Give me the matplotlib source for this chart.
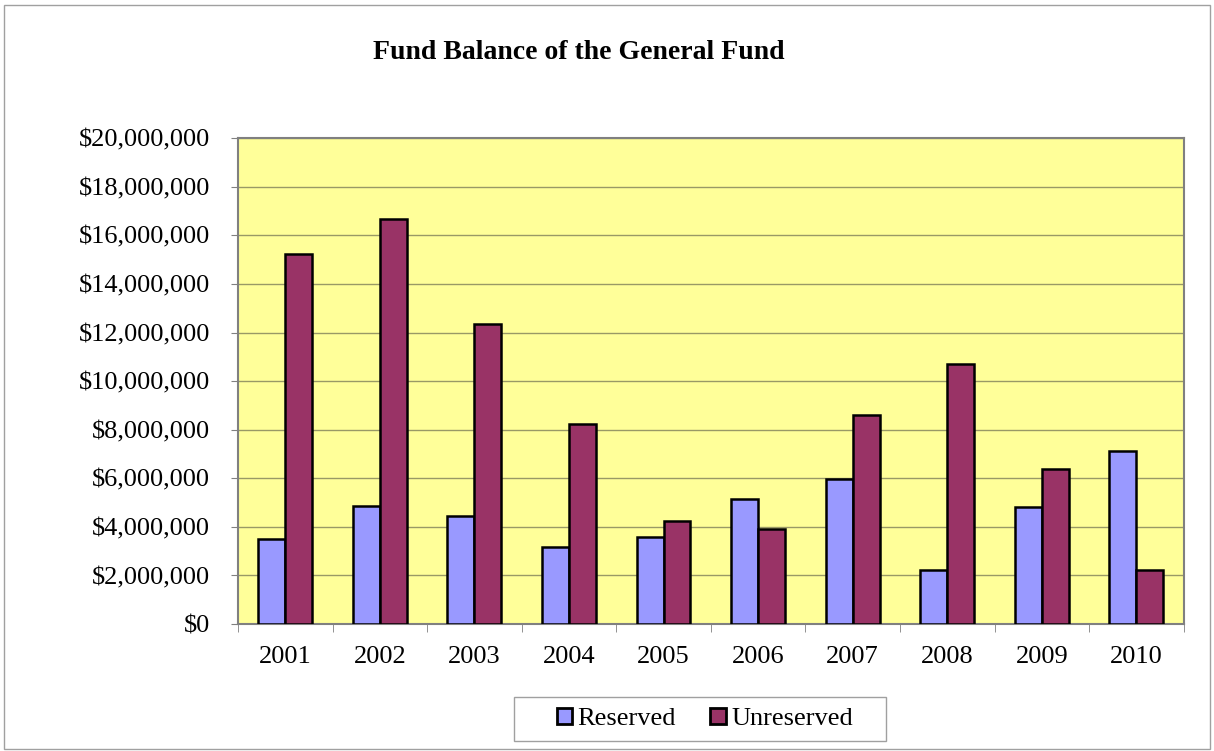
import numpy as np
import matplotlib.pyplot as plt
from matplotlib.patches import Rectangle
from matplotlib.ticker import FuncFormatter

# data
years = ["2001", "2002", "2003", "2004", "2005", "2006", "2007", "2008", "2009", "2010"]
reserved = [3.52e6, 4.85e6, 4.45e6, 3.18e6, 3.58e6, 5.13e6, 5.99e6, 2.23e6, 4.83e6, 7.14e6]
unreserved = [15.25e6, 16.66e6, 12.36e6, 8.23e6, 4.23e6, 3.91e6, 8.62e6, 10.72e6, 6.39e6, 2.23e6]

plt.rcParams["font.family"] = ["Liberation Serif", "DejaVu Serif"]

fig = plt.figure(figsize=(12.14, 7.51), dpi=100)
fig.patches.append(Rectangle((0.003, 0.003), 0.994, 0.99, transform=fig.transFigure,
                             fill=False, edgecolor="#a0a0a0", linewidth=1))
# legend box
fig.patches.append(Rectangle((0.4234, 0.0133), 0.3064, 0.0586, transform=fig.transFigure,
                             fill=False, edgecolor="#a0a0a0", linewidth=1))
ax = fig.add_axes([0.196, 0.169, 0.779, 0.647])

x = np.arange(len(years))
w = 0.285
ax.bar(x - w / 2, reserved, w, color="#9999ff", edgecolor="black", linewidth=1.8, label="Reserved", zorder=3)
ax.bar(x + w / 2, unreserved, w, color="#993366", edgecolor="black", linewidth=1.8, label="Unreserved", zorder=3)

ax.set_facecolor("#ffff99")
ax.set_xlim(-0.5, len(years) - 0.5)
ax.set_ylim(0, 20e6)
ax.set_yticks(np.arange(0, 20e6 + 1, 2e6))
ax.yaxis.set_major_formatter(FuncFormatter(lambda v, p: "${:,.0f}".format(v)))
ax.grid(axis="y", color="#999966", linewidth=1, zorder=0)

ax.set_xticks(x)
ax.set_xticklabels(years)
ax.set_xticks(np.arange(-0.5, len(years), 1), minor=True)
ax.tick_params(axis="x", which="major", length=0, pad=16, labelsize=19)
ax.tick_params(axis="x", which="minor", length=6, color="#808080")
ax.tick_params(axis="y", length=5, color="#808080", labelsize=19, pad=15)

for s in ["top", "right", "left", "bottom"]:
    ax.spines[s].set_color("#808080")
    ax.spines[s].set_linewidth(1.5)

fig.text(0.477, 0.93, "Fund Balance of the General Fund", ha="center", va="center",
         fontsize=20, fontweight="bold")

leg = fig.legend(loc="center", bbox_to_anchor=(0.5807, 0.0425), ncol=2, fontsize=19,
                 frameon=False, handlelength=0.6, handleheight=0.6, handletextpad=0.2,
                 columnspacing=1.3, borderpad=0, borderaxespad=0)
for h in leg.legend_handles:
    h.set_linewidth(2)

fig.savefig("out.png", dpi=100)
